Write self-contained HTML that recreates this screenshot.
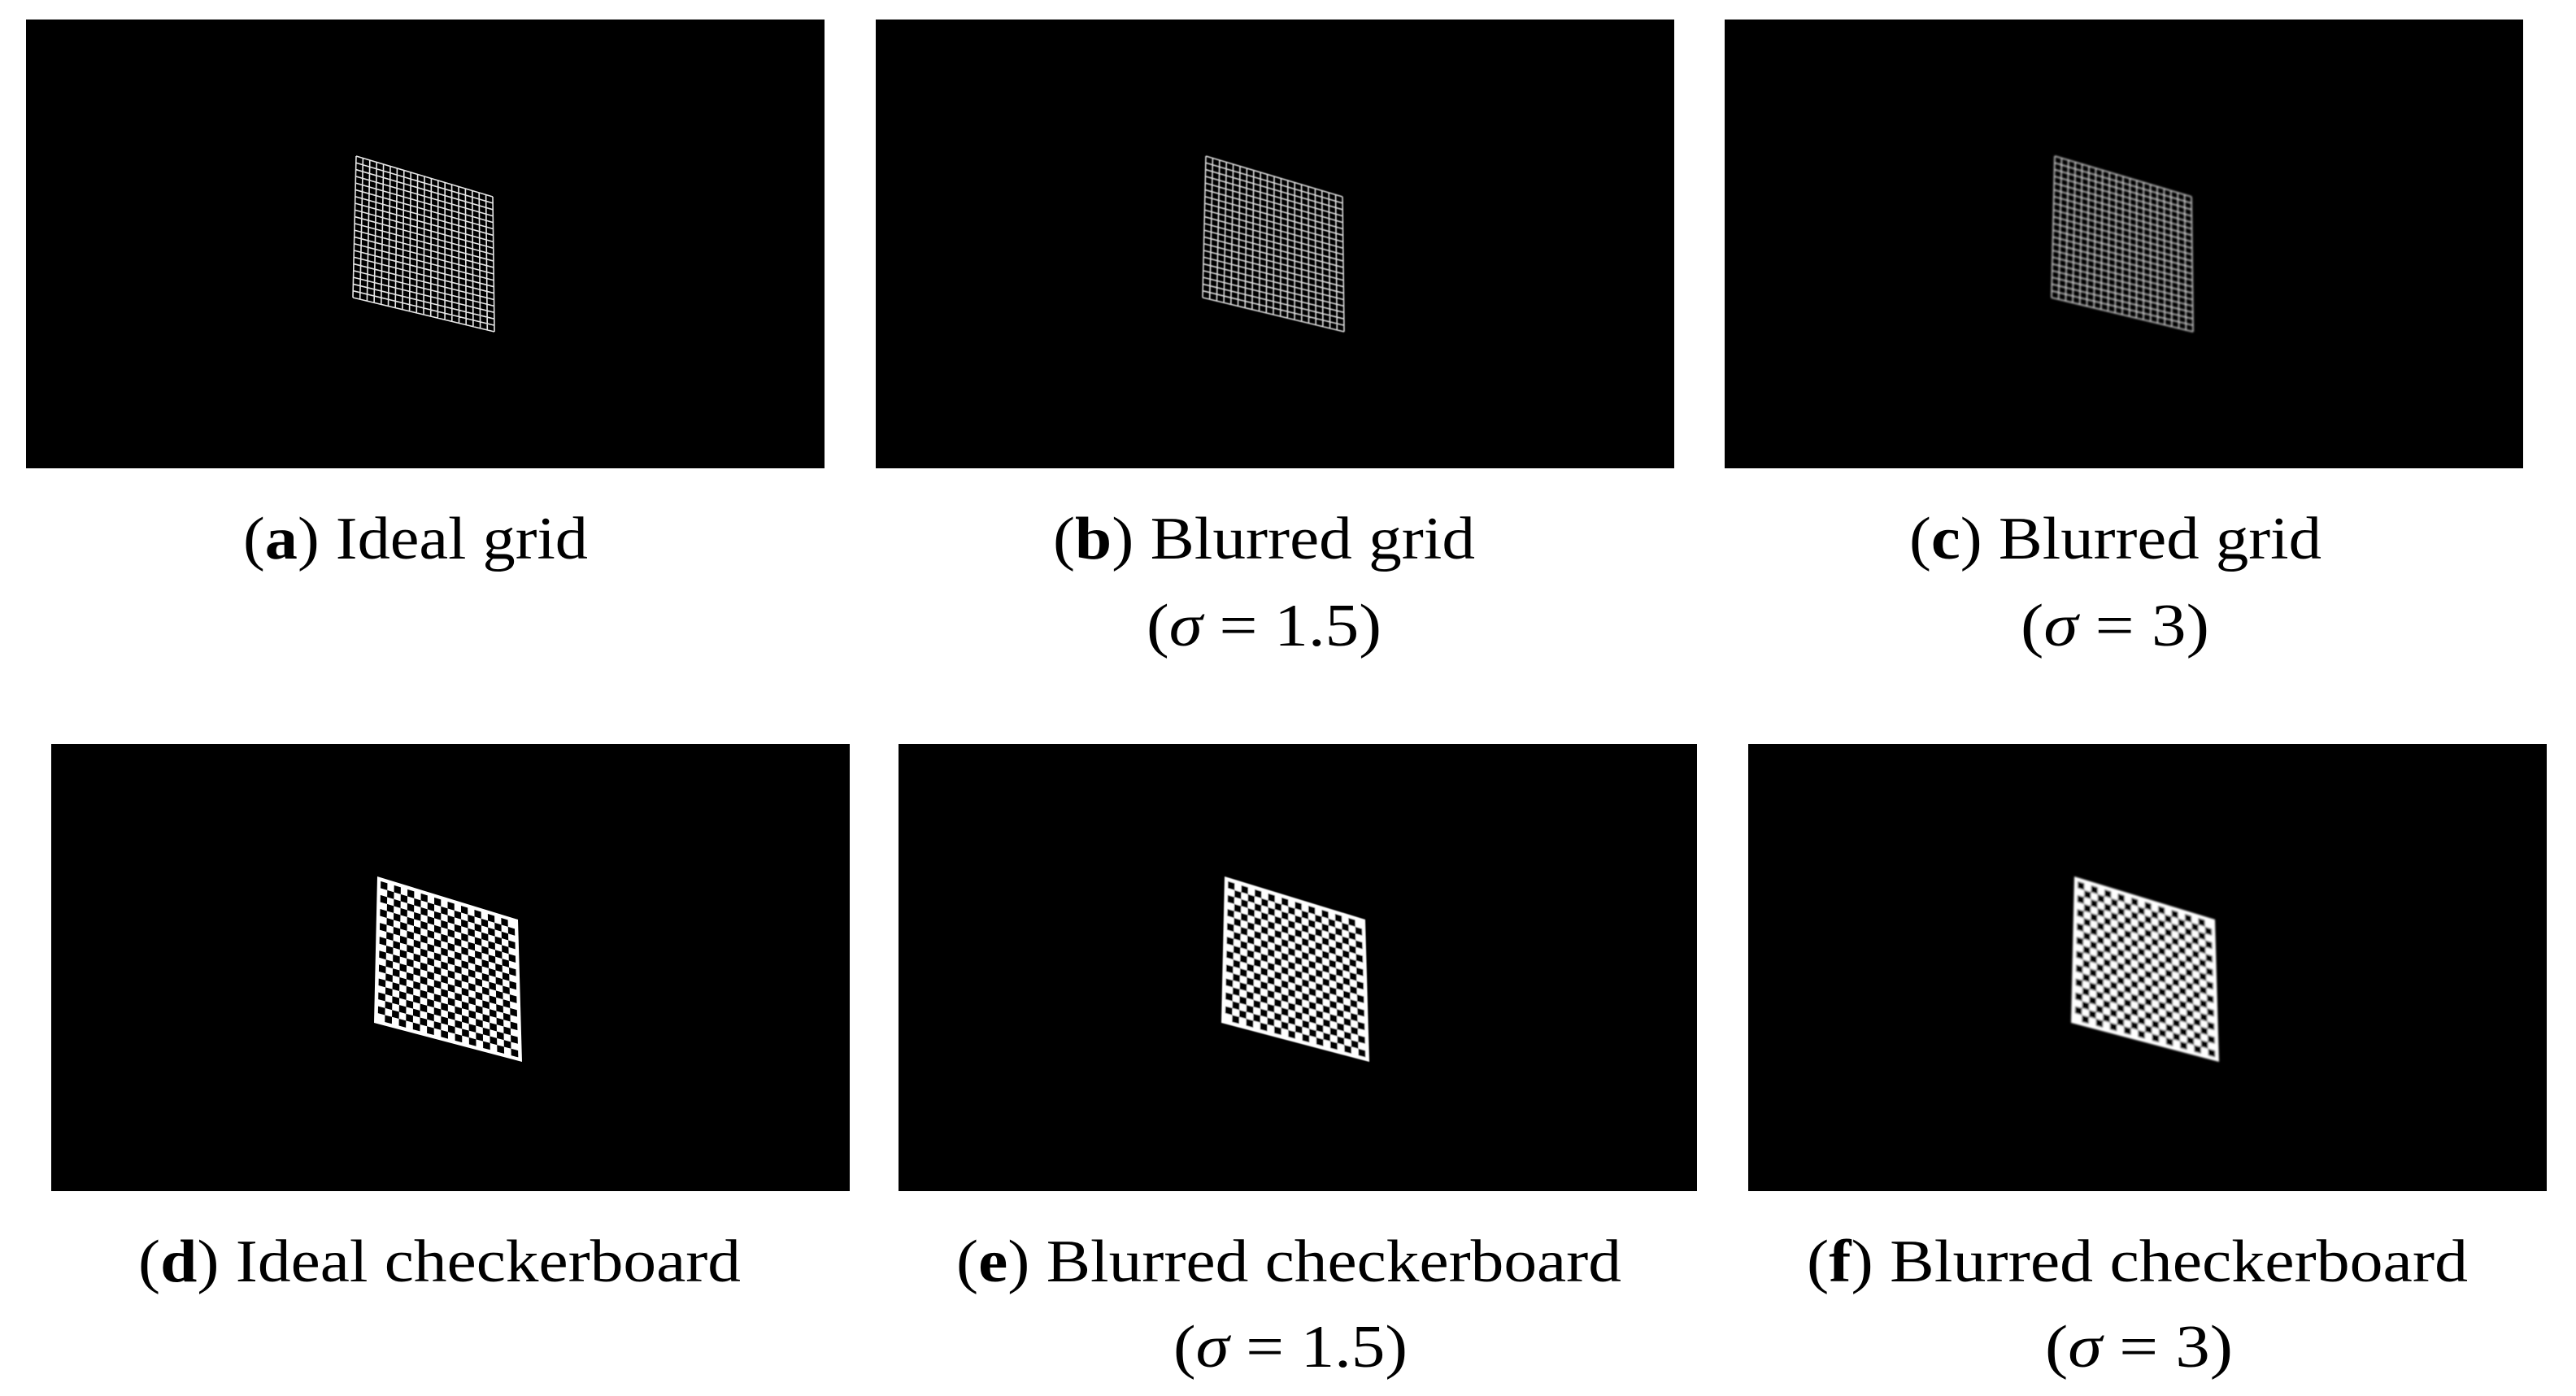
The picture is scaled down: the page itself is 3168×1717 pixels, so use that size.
<!DOCTYPE html>
<html><head><meta charset="utf-8"><style>
html,body{margin:0;padding:0;background:#fff;}
svg{display:block;}
text{font-family:"Liberation Serif",serif;font-size:74px;fill:#000;}
</style></head><body>
<svg id="s" width="3168" height="1717" viewBox="0 0 3168 1717" xmlns="http://www.w3.org/2000/svg">
<defs>
<filter id="b1" x="-20%" y="-20%" width="140%" height="140%"><feGaussianBlur stdDeviation="0.6"/></filter>
<filter id="b2" x="-20%" y="-20%" width="140%" height="140%"><feGaussianBlur stdDeviation="1.0"/></filter>
</defs>
<rect x="32" y="24" width="982" height="552" fill="#000"/>
<rect x="1077" y="24" width="982" height="552" fill="#000"/>
<rect x="2121" y="24" width="982" height="552" fill="#000"/>
<rect x="63" y="915" width="982" height="550" fill="#000"/>
<rect x="1105" y="915" width="982" height="550" fill="#000"/>
<rect x="2150" y="915" width="982" height="550" fill="#000"/>
<g id="g"></g>
<text x="299" y="687" textLength="424" lengthAdjust="spacingAndGlyphs">(<tspan font-weight="bold">a</tspan>) Ideal grid</text>
<text x="1295" y="687" textLength="519" lengthAdjust="spacingAndGlyphs">(<tspan font-weight="bold">b</tspan>) Blurred grid</text>
<text x="1410" y="794" textLength="289" lengthAdjust="spacingAndGlyphs">(<tspan font-style="italic">σ</tspan> = 1.5)</text>
<text x="2348" y="687" textLength="507" lengthAdjust="spacingAndGlyphs">(<tspan font-weight="bold">c</tspan>) Blurred grid</text>
<text x="2485" y="794" textLength="232" lengthAdjust="spacingAndGlyphs">(<tspan font-style="italic">σ</tspan> = 3)</text>
<text x="170" y="1576" textLength="741" lengthAdjust="spacingAndGlyphs">(<tspan font-weight="bold">d</tspan>) Ideal checkerboard</text>
<text x="1176" y="1576" textLength="818" lengthAdjust="spacingAndGlyphs">(<tspan font-weight="bold">e</tspan>) Blurred checkerboard</text>
<text x="1443" y="1681" textLength="288" lengthAdjust="spacingAndGlyphs">(<tspan font-style="italic">σ</tspan> = 1.5)</text>
<text x="2222" y="1576" textLength="813" lengthAdjust="spacingAndGlyphs">(<tspan font-weight="bold">f</tspan>) Blurred checkerboard</text>
<text x="2515" y="1681" textLength="231" lengthAdjust="spacingAndGlyphs">(<tspan font-style="italic">σ</tspan> = 3)</text>
</svg>
<script>
var NS="http://www.w3.org/2000/svg",G=document.getElementById("g");
function bl(q,u,v){var a=q[0],b=q[1],c=q[2],d=q[3];
return [(1-u)*(1-v)*a[0]+u*(1-v)*b[0]+u*v*c[0]+(1-u)*v*d[0],(1-u)*(1-v)*a[1]+u*(1-v)*b[1]+u*v*c[1]+(1-u)*v*d[1]];}
function el(t,at,p){var e=document.createElementNS(NS,t);for(var k in at)e.setAttribute(k,at[k]);p.appendChild(e);return e;}
function grid(ox,oy,f,col){
 var q=[[ox+406,oy+168],[ox+574,oy+218],[ox+576,oy+384],[ox+402,oy+342]];
 var g=el("g",f?{filter:"url(#"+f+")"}:{},G),d="",N=20,M=21;
 for(var i=0;i<=N;i++){var a=bl(q,i/N,0),b=bl(q,i/N,1);d+="M"+a[0]+" "+a[1]+"L"+b[0]+" "+b[1];}
 for(var j=0;j<=M;j++){var a=bl(q,0,j/M),b=bl(q,1,j/M);d+="M"+a[0]+" "+a[1]+"L"+b[0]+" "+b[1];}
 el("path",{d:d,stroke:col,"stroke-width":1.6,fill:"none"},g);
}
function chk(ox,oy,f){
 var q=[[ox+401,oy+163],[ox+574,oy+216],[ox+579,oy+391],[ox+397,oy+343]];
 var g=el("g",f?{filter:"url(#"+f+")"}:{},G);
 el("polygon",{points:q.map(function(p){return p.join(",")}).join(" "),fill:"#fff"},g);
 var e=0.025,N=20,d="";
 for(var i=0;i<N;i++)for(var j=0;j<N;j++){if((i+j)%2)continue;
  var u0=e+(1-2*e)*i/N,u1=e+(1-2*e)*(i+1)/N,v0=e+(1-2*e)*j/N,v1=e+(1-2*e)*(j+1)/N;
  var p=[bl(q,u0,v0),bl(q,u1,v0),bl(q,u1,v1),bl(q,u0,v1)];
  d+="M"+p.map(function(x){return x.join(" ")}).join("L")+"Z";}
 el("path",{d:d,fill:"#000"},g);
}
grid(32,24,null,"#e8e8e8");grid(1077,24,"b1","#dcdcdc");grid(2121,24,"b2","#d4d4d4");
chk(63,915,null);chk(1105,915,"b1");chk(2150,915,"b2");
</script>
</body></html>
